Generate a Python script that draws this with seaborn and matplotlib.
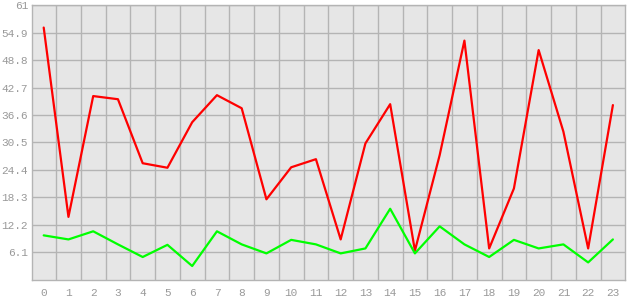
import matplotlib
matplotlib.use("Agg")
import matplotlib.pyplot as plt
import seaborn as sns
import pandas as pd
import numpy as np

hours = list(range(24))
red_values = [56.0, 14.0, 40.8, 40.1, 25.9, 24.9, 35.0, 41.0, 38.1, 17.9, 25.0, 26.8,
              9.0, 30.3, 39.0, 6.5, 27.7, 53.1, 7.0, 20.3, 51.0, 32.9, 7.0, 38.8]
green_values = [9.9, 9.0, 10.8, 7.9, 5.1, 7.8, 3.1, 10.8, 7.9, 5.9, 8.9, 7.9,
                5.9, 7.0, 15.8, 5.9, 11.9, 7.9, 5.1, 8.9, 7.0, 7.9, 3.9, 9.0]
y_ticks = [6.1, 12.2, 18.3, 24.4, 30.5, 36.6, 42.7, 48.8, 54.9, 61]
y_tick_labels = ["6.1", "12.2", "18.3", "24.4", "30.5", "36.6", "42.7", "48.8", "54.9", "61"]

df = pd.DataFrame({"x": hours * 2,
                   "y": red_values + green_values,
                   "s": ["red"] * 24 + ["green"] * 24})

sns.set_theme(style="white")
plt.rcParams['font.family'] = ['Liberation Mono', 'DejaVu Sans Mono']

fig = plt.figure(figsize=(6.3, 3.0), dpi=100)
ax = fig.add_axes([0.0513, 0.0667, 0.9412, 0.9166])
ax.set_facecolor("#e6e6e6")

sns.lineplot(data=df, x="x", y="y", hue="s", palette={"red": "#ff0000", "green": "#00ff00"},
             linewidth=1.6, ax=ax, legend=False)

ax.set_xlim(-0.46, 23.5)
ax.set_ylim(0, 61)
ax.set_xticks(hours)
ax.set_xticklabels([str(h) for h in hours])
ax.set_xticks(np.arange(0.5, 23.5, 1.0), minor=True)
ax.set_yticks(y_ticks)
ax.set_yticklabels(y_tick_labels)
ax.grid(False)
ax.grid(True, which="minor", axis="x", color="#b4b4b4", linewidth=1)
ax.grid(True, which="major", axis="y", color="#b4b4b4", linewidth=1)
ax.set_axisbelow(True)
ax.tick_params(axis="x", which="major", length=4, width=1, color="#b4b4b4", colors="#999999",
               labelsize=8, pad=2, direction="out")
ax.tick_params(axis="x", which="minor", length=0)
ax.tick_params(axis="y", which="major", length=2, width=1, color="#b4b4b4", labelcolor="#999999",
               labelsize=8, pad=1, direction="out")
for sp in ax.spines.values():
    sp.set_color("#b4b4b4")
    sp.set_linewidth(1)
ax.set_xlabel("")
ax.set_ylabel("")

fig.savefig("out.png", dpi=100, facecolor="white")
